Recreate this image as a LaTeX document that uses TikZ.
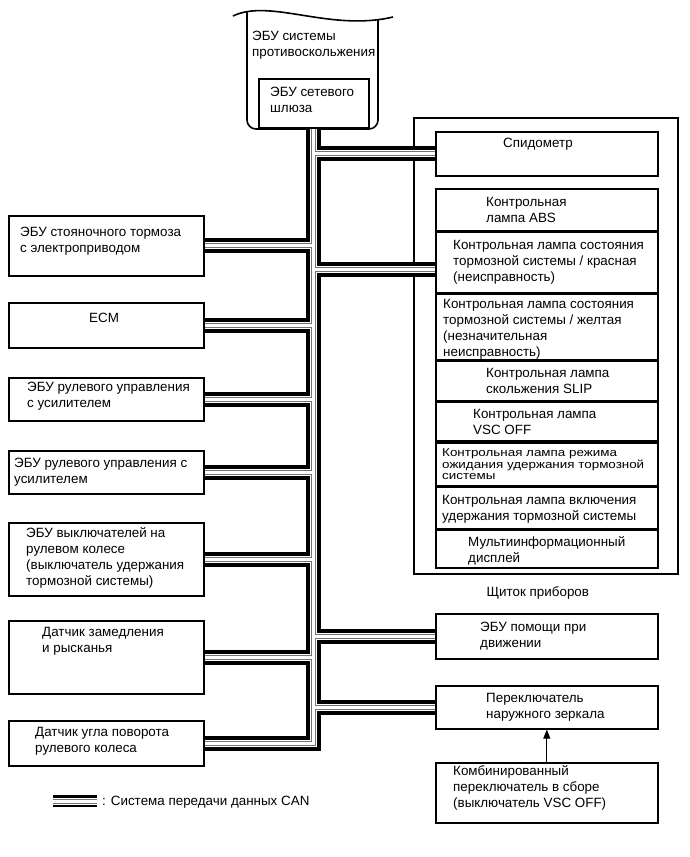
\documentclass[tikz,border=0pt]{standalone}
\usepackage{fontspec}
\setmainfont{Liberation Sans}
\usetikzlibrary{arrows.meta, positioning, calc}

\begin{document}
\begin{tikzpicture}[
  x=1pt, y=-1pt,
  txt/.style={font=\fontsize{13.4}{16}\selectfont, align=left, inner sep=0pt},
  box/.style={draw, line width=1.6pt, inner sep=0pt, anchor=north west},
  lbox/.style={box, minimum width=195pt},
  rbox/.style={box, minimum width=222pt},
  can/.style={draw=black, line width=15pt,
    postaction={draw=white, line width=7pt},
    postaction={draw=black!55, line width=5pt},
    postaction={draw=white, line width=3pt}},
  tip/.style={-{Triangle[length=9pt, width=7pt]}, line width=0.9pt}
]
\useasboundingbox (0,0) rectangle (689,857);

% skid control ECU with gateway
\draw[line width=1.6pt] (233,16) .. controls (270,-2) and (330,32) .. (393,17);
\draw[line width=1.6pt, rounded corners=9pt] (247,11.6) -- (247,129) -- (378,129) -- (378,19.7);
\node[txt, anchor=west] (ecu) at (252,45) {ЭБУ системы\\противоскольжения};
\node[box, line width=2pt, minimum width=110pt, minimum height=49pt,
  label={[txt, anchor=west, xshift=12pt, yshift=3.5pt]west:{ЭБУ сетевого\\шлюза}}] (gw) at (258,78) {};
\coordinate (top) at (313,129);

% left side
\node[lbox, minimum height=60pt, label={[txt, anchor=west, xshift=12pt, yshift=5pt]west:{ЭБУ стояночного тормоза\\с электроприводом}}] (park) at (8,215) {};
\node[lbox, minimum height=45pt, label={[txt, anchor=west, xshift=81pt, yshift=7.5pt]west:{ECM}}] (ecm) at (8,302) {};
\node[lbox, minimum height=43pt, label={[txt, anchor=west, xshift=19pt, yshift=3pt]west:{ЭБУ рулевого управления\\с усилителем}}] (eps1) at (8,377) {};
\node[lbox, minimum height=43pt, label={[txt, anchor=west, xshift=6pt]west:{ЭБУ рулевого управления с\\усилителем}}] (eps2) at (8,450) {};
\node[lbox, minimum height=73pt, label={[txt, anchor=west, xshift=18pt, yshift=1pt]west:{ЭБУ выключателей на\\рулевом колесе\\(выключатель удержания\\тормозной системы)}}] (swt) at (8,522) {};
\node[lbox, minimum height=73pt, label={[txt, anchor=west, xshift=34pt, yshift=16pt]west:{Датчик замедления\\и рысканья}}] (yaw) at (8,620) {};
\node[lbox, minimum height=45pt, label={[txt, anchor=west, xshift=27pt, yshift=2pt]west:{Датчик угла поворота\\рулевого колеса}}] (steer) at (8,720) {};

% combination meter
\node[draw, line width=1.6pt, inner sep=0pt, anchor=north west, minimum width=264pt, minimum height=456pt,
  label={[txt, xshift=-8pt, label distance=12pt]below:{Щиток приборов}}] (panel) at (413,117) {};
\node[rbox, minimum height=44pt, label={[txt, anchor=west, xshift=68pt, yshift=10pt]west:{Спидометр}}] (spd) at (435,131) {};
\node[rbox, minimum height=42pt, label={[txt, anchor=west, xshift=51pt]west:{Контрольная\\лампа ABS}}] (abs) at (435,188) {};
\node[rbox, minimum height=60pt, below=0pt of abs, label={[txt, anchor=west, xshift=18pt]west:{Контрольная лампа состояния\\тормозной системы / красная\\(неисправность)}}] (red) {};
\node[rbox, minimum height=66pt, below=0pt of red, label={[txt, anchor=west, xshift=8pt, yshift=-2pt]west:{Контрольная лампа состояния\\тормозной системы / желтая\\(незначительная\\неисправность)}}] (yel) {};
\node[rbox, minimum height=39pt, below=0pt of yel, label={[txt, anchor=west, xshift=51pt]west:{Контрольная лампа\\скольжения SLIP}}] (slip) {};
\node[rbox, minimum height=39pt, below=0pt of slip, label={[txt, anchor=west, xshift=38pt]west:{Контрольная лампа\\VSC OFF}}] (vsc) {};
\node[rbox, minimum height=43pt, below=0pt of vsc, label={[txt, font=\fontsize{13.4}{13.5}\selectfont, anchor=west, xshift=7pt, yshift=-1.5pt]west:{\scalebox{1}[0.85]{\begin{tabular}{@{}l@{}}Контрольная лампа режима\\ожидания удержания тормозной\\системы\end{tabular}}}}] (hold1) {};
\node[rbox, minimum height=41pt, below=0pt of hold1, label={[txt, anchor=west, xshift=7pt, yshift=-1pt]west:{Контрольная лампа включения\\удержания тормозной системы}}] (hold2) {};
\node[rbox, minimum height=38pt, below=0pt of hold2, label={[txt, anchor=west, xshift=33pt, yshift=-1.5pt]west:{Мультиинформационный\\дисплей}}] (mid) {};

% right side below the meter
\node[rbox, minimum height=45pt, label={[txt, anchor=west, xshift=45pt]west:{ЭБУ помощи при\\движении}}] (assist) at (435,613) {};
\node[rbox, minimum height=43pt, label={[txt, anchor=west, xshift=51pt]west:{Переключатель\\наружного зеркала}}] (mirror) at (435,685) {};
\node[rbox, minimum height=60pt, label={[txt, anchor=west, xshift=18pt, yshift=5pt]west:{Комбинированный\\переключатель в сборе\\(выключатель VSC OFF)}}] (combo) at (435,762) {};
\draw[tip] (combo.north) -- (mirror.south);

% CAN bus
\coordinate (redin) at ([yshift=-7pt]red.west);
\draw[can] (top) -- (top |- steer.east) -- (steer.east)
  (park.east) -- (park.east -| top)
  (ecm.east) -- (ecm.east -| top)
  (eps1.east) -- (eps1.east -| top)
  (eps2.east) -- (eps2.east -| top)
  (swt.east) -- (swt.east -| top)
  (yaw.east) -- (yaw.east -| top)
  (spd.west) -- (spd.west -| top)
  (redin) -- (redin -| top)
  (assist.west) -- (assist.west -| top)
  (mirror.west) -- (mirror.west -| top);

% legend
\coordinate (lgA) at (53,801);
\coordinate (lgB) at (97,801);
\draw[can, line width=12pt] (lgA) -- (lgB);
\node[txt, anchor=west] (lgtxt) at (102,802) {: Система передачи данных CAN};
\end{tikzpicture}
\end{document}
